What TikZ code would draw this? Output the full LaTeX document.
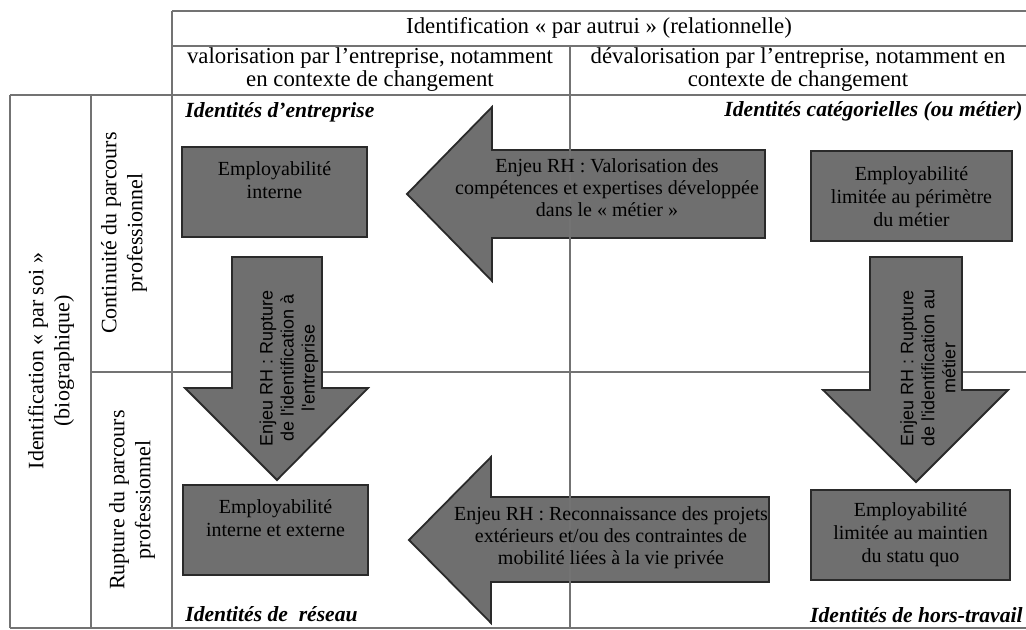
\documentclass[tikz,border=0pt]{standalone}
\usepackage{fontspec}
\setmainfont{Liberation Serif}
\newfontfamily\enjeufont{Liberation Sans}
\usetikzlibrary{calc}
\definecolor{gris}{HTML}{6F6F6F}
\definecolor{bord}{HTML}{2A2A2A}
\tikzset{
  grille/.style={draw=black!55, line width=0.6pt},
  emploi/.style={draw=bord, fill=gris, line width=1pt, minimum width=92.5pt, minimum height=45pt, inner sep=0pt, align=center, font=\fontsize{10}{11.5}\selectfont},
  enjeu/.style={draw=bord, fill=gris, line width=0.9pt, line join=miter},
  enjeutxt/.style={align=center, inner sep=0pt, font=\fontsize{10}{11}\selectfont},
  ruptxt/.style={align=center, inner sep=0pt, rotate=90, font=\enjeufont\fontsize{9}{10.5}\selectfont},
  entete/.style={align=center, inner sep=0pt, font=\fontsize{11.4}{11.5}\selectfont},
  identite/.style={inner sep=0pt, font=\fontsize{10.8}{12}\selectfont\bfseries\itshape},
  parcours/.style={align=center, inner sep=0pt, rotate=90, font=\fontsize{11}{13}\selectfont}
}
\begin{document}
\begin{tikzpicture}[x=0.5pt, y=-0.5pt]
		%%%%% START %%%%%
		\useasboundingbox (0,0) rectangle (1026,630);
		
		% horizontal rules of the table
		\draw[grille] (172,11) -- (1026,11);
		\draw[grille] (172,46) -- (1026,46);
		\draw[grille] (10,95) -- (1026,95);
		\draw[grille] (91,372) -- (1026,372);
		\draw[grille] (10,628) -- (1026,628);
		
		% header texts
		\node[entete] (autrui) at (599,28) {Identification «~par autrui~» (relationnelle)};
		\node[entete] (valo) at (370,70) {valorisation par l'entreprise, notamment\\en contexte de changement};
		\node[entete] (devalo) at (798,70) {dévalorisation par l'entreprise, notamment en\\contexte de changement};
		
		\node[parcours] (soi) at (51,361) {Identification «~par soi~»\\(biographique)};
		\node[parcours] (continu) at (124,233) {Continuité du parcours\\professionnel};
		\node[parcours] (rupt) at (132,500) {Rupture du parcours\\professionnel};
		
		% corner labels
		\node[identite, anchor=west] (entr) at (185,112) {Identités d'entreprise};
		\node[identite, anchor=east] (categ) at (1023,111) {Identités catégorielles (ou métier)};
		\node[identite, anchor=west] (reseau) at (185,614) {Identités de~~réseau};
		\node[identite, anchor=east] (hors) at (1023,615) {Identités de hors-travail};
		
		% arrows
		\draw[enjeu] (407,194) -- (492,107) -- (492,150) -- (765,150) -- (765,238) -- (492,238) -- (492,281) -- cycle;
		\draw[enjeu] (409,540) -- (491,457) -- (491,497) -- (769,497) -- (769,582) -- (491,582) -- (491,623) -- cycle;
		\draw[enjeu] (232,257) -- (322,257) -- (322,388) -- (368,388) -- (277,480) -- (185,388) -- (232,388) -- cycle;
		\draw[enjeu] (870,257) -- (962,257) -- (962,390) -- (1008,390) -- (916,482) -- (823,390) -- (870,390) -- cycle;
		
		% vertical rules of the table
		\draw[grille] (10,95) -- (10,628);
		\draw[grille] (91,95) -- (91,628);
		\draw[grille] (172,11) -- (172,628);
		\draw[grille] (570,46) -- (570,628);
		
		\node[enjeutxt] (valcomp) at (607,188) {Enjeu RH : Valorisation des\\compétences et expertises développée\\dans le «~métier~»};
		\node[enjeutxt] (reco) at (611,538) {Enjeu RH : Reconnaissance des projets\\extérieurs et/ou des contraintes de\\mobilité liées à la vie privée};
		\node[ruptxt] (ruptentr) at (289,368) {Enjeu RH : Rupture\\de l'identification à\\l'entreprise};
		\node[ruptxt] (ruptmet) at (928,368) {Enjeu RH : Rupture\\de l'identification au\\métier};
		
		% employability boxes
		\node[emploi] (interne) at (274.5,192) {Employabilité\\interne\\~};
		\node[emploi, minimum width=100.5pt] (perim) at (911.5,196.5) {Employabilité\\limitée au périmètre\\du métier};
		\node[emploi] (externe) at (275.5,529.5) {Employabilité\\interne et externe\\~};
		\node[emploi, minimum width=99.5pt] (quo) at (910.5,534.5) {Employabilité\\limitée au maintien\\du statu quo};
		%%%%% END %%%%%
\end{tikzpicture}
\end{document}
